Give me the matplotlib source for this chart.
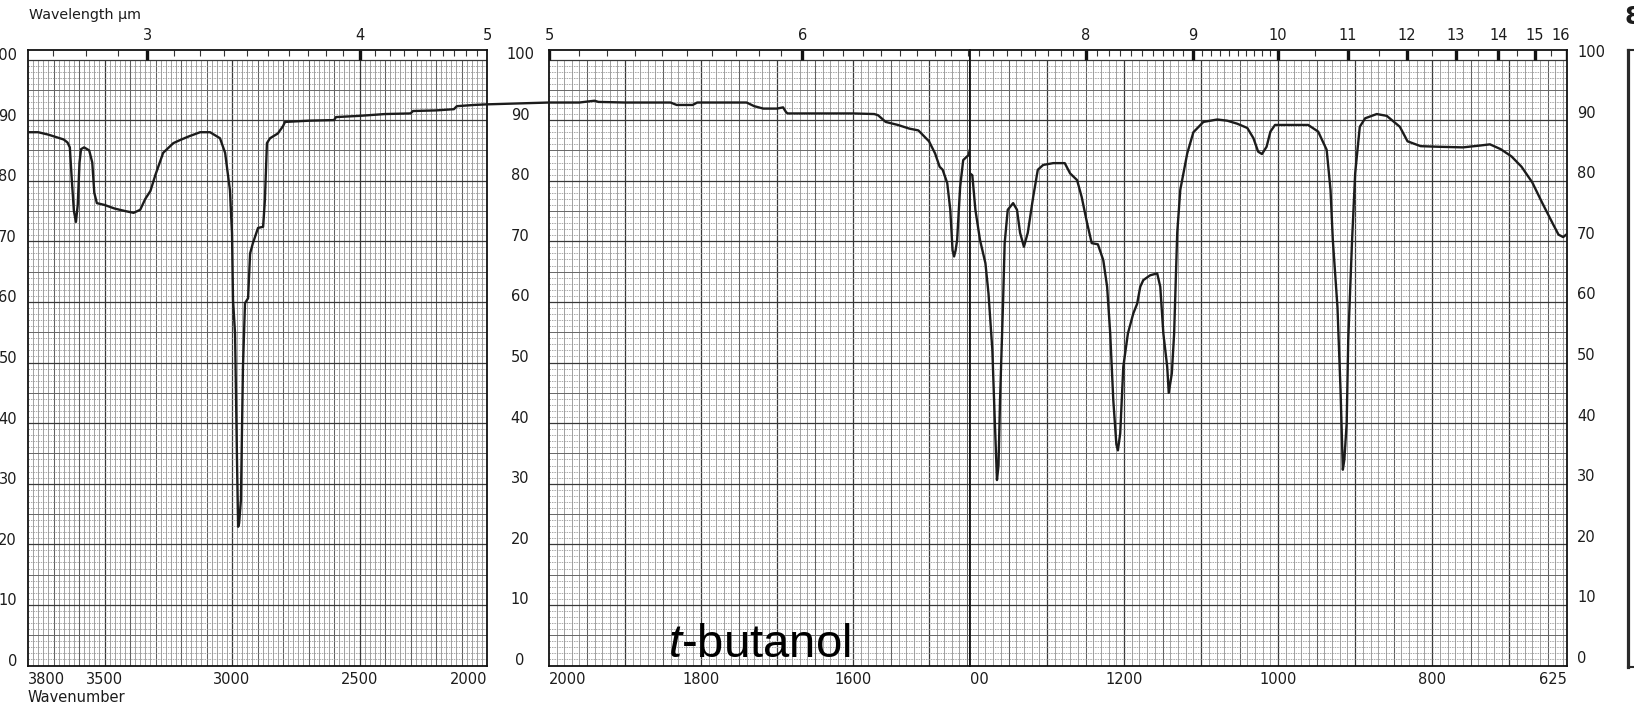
import numpy as np
import matplotlib
matplotlib.use("Agg")
import matplotlib.pyplot as plt
from matplotlib.transforms import ScaledTranslation
from matplotlib.patches import ConnectionPatch
from matplotlib.lines import Line2D

plt.rcParams["font.family"] = ["DejaVu Sans"]
plt.rcParams["mathtext.fontset"] = "custom"
plt.rcParams["mathtext.rm"] = "Liberation Sans"
plt.rcParams["mathtext.it"] = "Liberation Sans:italic"

# ---- spectrum (wavenumber cm-1, % transmittance) ----
wn_high = [3800, 3760, 3720, 3690, 3660, 3645, 3636, 3628, 3620, 3612, 3605, 3598,
           3592, 3580, 3560, 3548, 3540, 3530, 3500, 3460, 3420, 3386, 3360, 3340,
           3320, 3300, 3270, 3230, 3204, 3170, 3125, 3086, 3047, 3027, 3008, 3000,
           2996, 2988, 2984, 2980, 2976, 2972, 2965, 2957, 2949, 2937, 2929, 2918,
           2898, 2878, 2871, 2863, 2851, 2820, 2800, 2792, 2700, 2600, 2592, 2500,
           2400, 2300, 2290, 2200, 2130, 2118, 2050, 2000]
t_high = [88.0, 88.0, 87.6, 87.2, 86.8, 86.3, 85.5, 80.0, 75.0, 73.2, 76.0, 83.0,
          85.2, 85.5, 85.0, 83.0, 78.0, 76.3, 76.0, 75.4, 75.0, 74.7, 75.2, 77.0,
          78.3, 81.0, 84.6, 86.2, 86.7, 87.3, 88.0, 88.0, 87.0, 84.6, 78.4, 71.3,
          60.3, 54.8, 43.8, 32.8, 22.9, 23.5, 27.3, 49.3, 59.8, 60.6, 68.0, 69.7,
          72.2, 72.4, 76.8, 86.2, 87.0, 87.8, 89.0, 89.7, 89.9, 90.0, 90.5, 90.7,
          91.0, 91.1, 91.5, 91.6, 91.8, 92.3, 92.5, 92.6]

# middle chart strip (2000 - ~1446 cm-1)
wn_mid = [2000, 1960, 1940, 1935, 1900, 1840, 1832, 1811, 1805, 1740, 1730, 1718,
          1700, 1692, 1688, 1686, 1600, 1572, 1567, 1557, 1541, 1526, 1514, 1507,
          1500, 1492, 1486, 1482, 1476, 1472, 1469, 1467, 1465, 1463, 1459, 1455,
          1450, 1448, 1446]
t_mid = [92.9, 92.9, 93.2, 93.0, 92.9, 92.9, 92.5, 92.5, 92.9, 92.9, 92.3, 91.9,
         91.9, 92.1, 91.3, 91.1, 91.1, 91.0, 90.8, 89.7, 89.2, 88.6, 88.3, 87.4,
         86.5, 84.5, 82.3, 81.8, 79.6, 75.2, 68.5, 67.5, 68.5, 70.2, 79.0, 83.4,
         84.0, 84.2, 85.2]

# low wavenumber strip (1400 - 625 cm-1)
wn_low = [1400, 1397, 1393, 1387, 1380, 1376, 1371, 1368, 1365, 1363, 1361, 1357,
          1355, 1351, 1344, 1339, 1335, 1330, 1325, 1318, 1312, 1305, 1292, 1277,
          1270, 1261, 1255, 1248, 1242, 1234, 1227, 1222, 1218, 1214, 1210, 1208,
          1205, 1201, 1195, 1188, 1183, 1179, 1175, 1166, 1157, 1153, 1149, 1144,
          1142, 1138, 1135, 1131, 1127, 1118, 1110, 1097, 1079, 1066, 1053, 1040,
          1032, 1026, 1021, 1015, 1010, 1004, 980, 961, 948, 937, 932, 929,
          923, 919, 916, 914, 911, 909, 904, 900, 894, 887, 872, 859,
          842, 832, 815, 792, 760, 738, 725, 711, 697, 684, 670, 657,
          643, 636, 630, 627, 625]
t_low = [81.2, 80.9, 75.2, 70.2, 66.4, 61.4, 52.1, 41.0, 30.6, 33.0, 43.8, 60.3,
         69.7, 75.2, 76.3, 75.2, 71.4, 69.1, 71.4, 77.3, 81.8, 82.6, 82.9, 82.9,
         81.2, 80.1, 77.3, 73.0, 69.7, 69.5, 66.9, 62.5, 54.8, 43.8, 36.5, 35.5,
         38.3, 49.3, 54.8, 58.1, 59.7, 62.5, 63.6, 64.4, 64.7, 62.5, 54.8, 49.3,
         45.0, 48.2, 54.8, 71.4, 78.5, 84.5, 88.0, 89.7, 90.1, 89.9, 89.4, 88.7,
         87.0, 84.8, 84.4, 85.6, 88.1, 89.2, 89.2, 89.2, 88.1, 85.1, 78.5, 70.2,
         59.2, 45.5, 32.3, 34.0, 40.0, 53.7, 70.2, 81.2, 88.9, 90.3, 91.0, 90.7,
         88.9, 86.5, 85.7, 85.6, 85.5, 85.8, 86.0, 85.2, 84.0, 82.3, 79.7, 76.3,
         72.8, 71.1, 70.7, 71.0, 71.2]

pct_ticks = [0, 10, 20, 30, 40, 50, 60, 70, 80, 90, 100]
wn_labels_high = [3800, 3500, 3000, 2500, 2000]
wn_labels_mid = [2000, 1800, 1600]
wn_labels_low = [1400, 1200, 1000, 800, 625]
um_labels_high = [3, 4, 5]
um_labels_mid = [5, 6]
um_labels_low = [8, 9, 10, 11, 12, 13, 14, 15, 16]

W, H = 1634, 707
fig = plt.figure(figsize=(W / 100, H / 100), dpi=100)
fig.patch.set_facecolor("white")

Y_TOP = 100 + 9.5 / 6.06   # ruler strip above the 100 % line
INK = "#1c1c1c"
FS = 10.5


def px_axes(x0, x1, ytop, ybot):
    return fig.add_axes([x0 / W, 1 - ybot / H, (x1 - x0) / W, (ybot - ytop) / H])


def off(dx, dy):
    return ScaledTranslation(dx / 100, dy / 100, fig.dpi_scale_trans)


def paper(ax, lo, hi, minor, mid, major):
    xs = np.arange(int(np.ceil(lo / minor)) * minor, hi + 1, minor)
    xs = xs[(xs > lo) & (xs < hi)]
    for x in xs:
        if x % major == 0:
            c, lw = "#383838", 0.9
        elif x % mid == 0:
            c, lw = "#606060", 0.75
        else:
            c, lw = "#878787", 0.55
        ax.vlines(x, 0, 100, colors=c, lw=lw, zorder=1)
    for y in range(1, 101):
        tr = ax.get_yaxis_transform()
        if y % 10 == 0:
            ax.hlines(y, 0, 1, transform=tr, colors="#383838", lw=0.9, zorder=1)
        elif y % 5 == 0:
            ax.hlines(y, 0, 1, transform=tr, colors="#666666", lw=0.7, zorder=1)
        else:
            ax.hlines(y, 0, 1, transform=tr, colors="#959595", lw=0.55,
                      linestyles=(0, (2, 1.2)), zorder=1)
    ax.set_ylim(0, Y_TOP)
    ax.set_xticks([])
    ax.set_yticks([])
    for s in ax.spines.values():
        s.set_linewidth(1.3)
        s.set_color("#111111")


def ruler(ax, lams, lo, hi):
    for lam in lams:
        x = 1e4 / lam
        if x < lo or x > hi:
            continue
        if abs(lam - round(lam)) < 1e-6:
            ax.vlines(x, 100.0, Y_TOP, colors="#111111", lw=2.4, zorder=2)
        else:
            ax.vlines(x, 100.55, Y_TOP, colors="#333333", lw=0.8, zorder=2)


ax_h = px_axes(28, 487, 50, 665.5)
ax_m = px_axes(549, 970, 50, 665.5)
ax_l = px_axes(970, 1567, 50, 665.5)
ax_h.set_xlim(3800, 2000)
ax_m.set_xlim(2000, 2000 - 421 / 0.76)
ax_l.set_xlim(1400, 625)

paper(ax_h, 2000, 3800, 20, 100, 500)
paper(ax_m, 2000 - 421 / 0.76, 2000, 10, 50, 100)
paper(ax_l, 625, 1400, 10, 50, 100)

ruler(ax_h, np.arange(2.6, 5.05, 0.1), 2000, 3800)
ruler(ax_m, np.arange(5.0, 7.0, 0.1), 2000 - 421 / 0.76, 2000.1)
ruler(ax_l, np.concatenate([np.arange(7.1, 10.05, 0.1), np.arange(10.5, 16.1, 0.5)]),
      625, 1400)

for ax, wn, t in [(ax_h, wn_high, t_high), (ax_m, wn_mid, t_mid), (ax_l, wn_low, t_low)]:
    ax.plot(wn, t, color=INK, lw=1.7, solid_joinstyle="round", zorder=3)

# trace carried across the gap between the two sheets
con = ConnectionPatch(xyA=(wn_high[-1], t_high[-1]), coordsA=ax_h.transData,
                      xyB=(wn_mid[0], t_mid[0]), coordsB=ax_m.transData,
                      color=INK, lw=1.7)
fig.add_artist(con)

# y labels
for v in pct_ticks:
    ax_h.text(0, v, str(v), transform=ax_h.get_yaxis_transform() + off(-11, 4),
              ha="right", va="center", fontsize=FS, color=INK)
    ax_m.text(0, v, str(v), transform=ax_m.get_yaxis_transform() + off(-29, 5),
              ha="center", va="center", fontsize=FS, color=INK)
    ax_l.text(1, v, str(v), transform=ax_l.get_yaxis_transform() + off(10, 7),
              ha="left", va="center", fontsize=FS, color=INK)


# wavenumber labels
def bottom(ax, vals, first_ha, last_ha, texts=None):
    for i, v in enumerate(vals):
        ha = "center"
        if i == 0:
            ha = first_ha
        elif i == len(vals) - 1:
            ha = last_ha
        s = texts[i] if texts else str(v)
        ax.text(v, 0, s, transform=ax.get_xaxis_transform() + off(0, -13.5),
                ha=ha, va="center", fontsize=FS, color=INK)


bottom(ax_h, wn_labels_high, "left", "right")
bottom(ax_m, wn_labels_mid, "left", "center")
bottom(ax_l, wn_labels_low, "left", "right",
       texts=["00"] + [str(v) for v in wn_labels_low[1:]])

# wavelength labels
for ax, lams in [(ax_h, um_labels_high), (ax_m, um_labels_mid), (ax_l, um_labels_low)]:
    for lam in lams:
        ha = "right" if lam == 16 else "center"
        dx = 3 if lam == 16 else 0
        ax.text(1e4 / lam, 1, str(lam), transform=ax.get_xaxis_transform() + off(dx, 15),
                ha=ha, va="center", fontsize=FS, color=INK)

fig.text(29 / W, 1 - 15 / H, "Wavelength µm", fontsize=10.3, color=INK,
         ha="left", va="center")
fig.text(28 / W, 1 - 697 / H, "Wavenumber", fontsize=10.5, color=INK,
         ha="left", va="center")
fig.text(668 / W, 1 - 657 / H, r"$\mathit{t}$-butanol", fontsize=34,
         family="Liberation Sans", color="black", ha="left", va="baseline")

# edge of the neighbouring chart on the scanned page
fig.add_artist(Line2D([1628 / W, 1628 / W], [1 - 50 / H, 1 - 667 / H], color="#2a2a2a", lw=2.3))
fig.add_artist(Line2D([1628 / W, 1], [1 - 50 / H, 1 - 50 / H], color="#2a2a2a", lw=1.5))
fig.add_artist(Line2D([1628 / W, 1], [1 - 667 / H, 1 - 667 / H], color="#2a2a2a", lw=1.5))
fig.text(1624 / W, 1 - 17 / H, "8", fontsize=18, fontweight="bold", color=INK,
         ha="left", va="center")

fig.savefig("out.png", dpi=100)
